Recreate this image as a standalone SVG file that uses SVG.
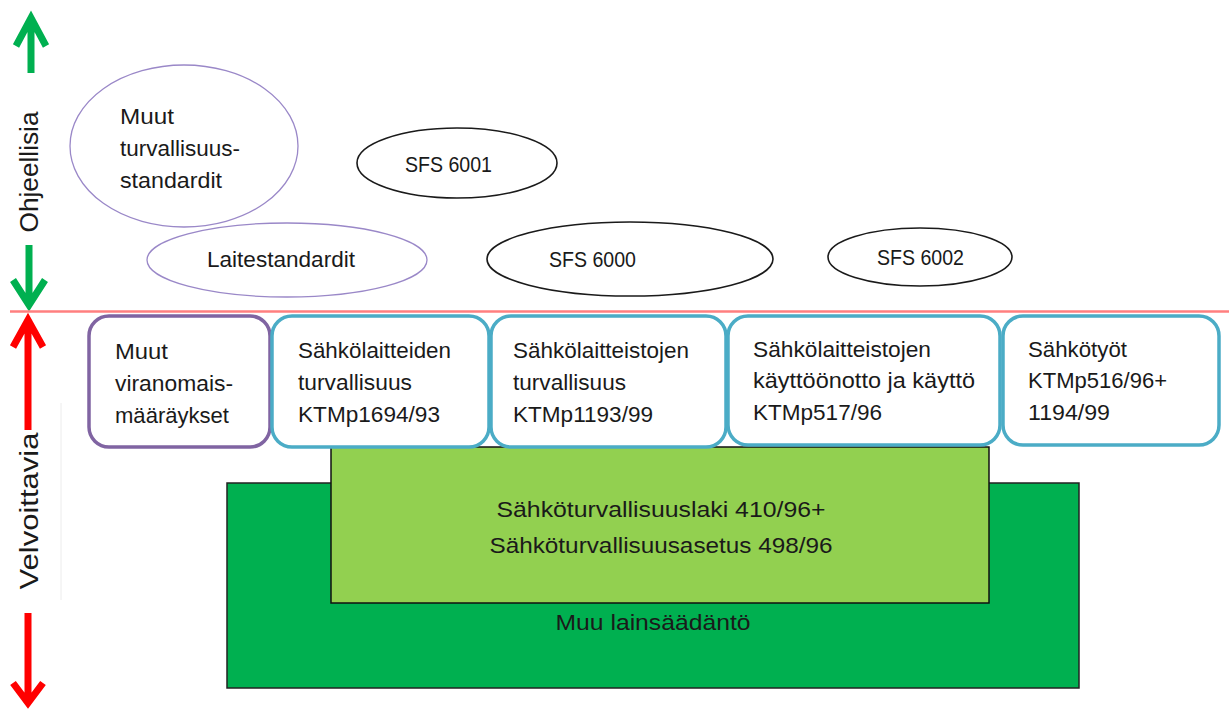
<svg xmlns="http://www.w3.org/2000/svg" width="1229" height="710" viewBox="0 0 1229 710">
<style>
text{font-family:"Liberation Sans",Arial,sans-serif;font-size:22px;fill:#1a1a1a}
.big{font-size:22px}
.side{font-size:26px}
.ell-p{fill:#fff;stroke:#9a88c8;stroke-width:1.3}
.ell-k{fill:#fff;stroke:#1a1a1a;stroke-width:1.6}
.box-b{fill:#fff;stroke:#4BACC6;stroke-width:3.5}
.box-p{fill:#fff;stroke:#8064A2;stroke-width:3.5}
.arr-g{fill:none;stroke:#00B050;stroke-width:7}
.arr-r{fill:none;stroke:#FF0000;stroke-width:7}
</style>
<rect width="1229" height="710" fill="#fff"/>

<g id="axis">
  <line x1="61" y1="403" x2="61" y2="600" stroke="#ececec" stroke-width="1"/>
  <path class="arr-g" d="M31,73 V18 M16,46 L31,18 L46,46"/>
  <path class="arr-g" d="M29,245 V305 M13,280 L29,305 L45,280"/>
  <path class="arr-r" d="M28,430 V320 M13,347 L28,320 L43,347"/>
  <path class="arr-r" d="M28,613 V703 M13,683 L28,703 L43,683"/>
  <text class="side" transform="translate(38,172) rotate(-90)" text-anchor="middle" textLength="121" lengthAdjust="spacingAndGlyphs">Ohjeellisia</text>
  <text class="side" transform="translate(38,511) rotate(-90)" text-anchor="middle" textLength="157" lengthAdjust="spacingAndGlyphs">Velvoittavia</text>
  <line x1="10" y1="311.5" x2="1229" y2="311.5" stroke="#FF7F7F" stroke-width="2.5"/>
</g>

<g id="muu-lainsaadanto">
  <rect x="227" y="483" width="852" height="205" fill="#00B050" stroke="#222" stroke-width="1.5"/>
  <text x="653" y="630" text-anchor="middle" textLength="195" lengthAdjust="spacingAndGlyphs">Muu lainsäädäntö</text>
</g>
<g id="sahkoturvallisuuslaki">
  <rect x="331" y="447" width="658" height="156" fill="#92D050" stroke="#111" stroke-width="1.5"/>
  <text class="big" x="661" y="517" text-anchor="middle" textLength="329" lengthAdjust="spacingAndGlyphs">Sähköturvallisuuslaki 410/96+</text>
  <text class="big" x="661" y="553" text-anchor="middle" textLength="343" lengthAdjust="spacingAndGlyphs">Sähköturvallisuusasetus 498/96</text>
</g>

<g id="muut-standardit">
  <ellipse class="ell-p" cx="184" cy="146" rx="114" ry="81"/>
  <text x="120" y="124" textLength="54" lengthAdjust="spacingAndGlyphs">Muut</text>
  <text x="120" y="156" textLength="120" lengthAdjust="spacingAndGlyphs">turvallisuus-</text>
  <text x="120" y="188" textLength="102" lengthAdjust="spacingAndGlyphs">standardit</text>
</g>
<g id="laitestandardit">
  <ellipse class="ell-p" cx="287" cy="260" rx="140" ry="37"/>
  <text x="207" y="267" textLength="148" lengthAdjust="spacingAndGlyphs">Laitestandardit</text>
</g>
<g id="sfs6001">
  <ellipse class="ell-k" cx="457" cy="163" rx="100" ry="35"/>
  <text x="405" y="172" textLength="87" lengthAdjust="spacingAndGlyphs">SFS 6001</text>
</g>
<g id="sfs6000">
  <ellipse class="ell-k" cx="630" cy="259" rx="143" ry="37"/>
  <text x="549" y="267" textLength="87" lengthAdjust="spacingAndGlyphs">SFS 6000</text>
</g>
<g id="sfs6002">
  <ellipse class="ell-k" cx="920" cy="257" rx="92" ry="29"/>
  <text x="877" y="265" textLength="87" lengthAdjust="spacingAndGlyphs">SFS 6002</text>
</g>

<g id="box-viranomais">
  <rect class="box-p" x="89" y="316" width="181" height="131" rx="20"/>
  <text x="115" y="359" textLength="53" lengthAdjust="spacingAndGlyphs">Muut</text>
  <text x="115" y="391" textLength="118" lengthAdjust="spacingAndGlyphs">viranomais-</text>
  <text x="115" y="423" textLength="114" lengthAdjust="spacingAndGlyphs">määräykset</text>
</g>
<g id="box-laitteiden">
  <rect class="box-b" x="272" y="316" width="217" height="131" rx="20"/>
  <text x="298" y="358" textLength="153" lengthAdjust="spacingAndGlyphs">Sähkölaitteiden</text>
  <text x="298" y="390" textLength="114" lengthAdjust="spacingAndGlyphs">turvallisuus</text>
  <text x="298" y="422" textLength="142" lengthAdjust="spacingAndGlyphs">KTMp1694/93</text>
</g>
<g id="box-laitteistojen">
  <rect class="box-b" x="491" y="316" width="235" height="131" rx="20"/>
  <text x="513" y="358" textLength="176" lengthAdjust="spacingAndGlyphs">Sähkölaitteistojen</text>
  <text x="513" y="390" textLength="113" lengthAdjust="spacingAndGlyphs">turvallisuus</text>
  <text x="513" y="422" textLength="140" lengthAdjust="spacingAndGlyphs">KTMp1193/99</text>
</g>
<g id="box-kayttoonotto">
  <rect class="box-b" x="728" y="316" width="272" height="129" rx="20"/>
  <text x="753" y="357" textLength="178" lengthAdjust="spacingAndGlyphs">Sähkölaitteistojen</text>
  <text x="753" y="388" textLength="222" lengthAdjust="spacingAndGlyphs">käyttöönotto ja käyttö</text>
  <text x="753" y="420" textLength="129" lengthAdjust="spacingAndGlyphs">KTMp517/96</text>
</g>
<g id="box-sahkotyot">
  <rect class="box-b" x="1003" y="316" width="216" height="129" rx="20"/>
  <text x="1028" y="357" textLength="99" lengthAdjust="spacingAndGlyphs">Sähkötyöt</text>
  <text x="1028" y="388" textLength="139" lengthAdjust="spacingAndGlyphs">KTMp516/96+</text>
  <text x="1028" y="420" textLength="82" lengthAdjust="spacingAndGlyphs">1194/99</text>
</g>

<g id="connectors"></g>
</svg>
